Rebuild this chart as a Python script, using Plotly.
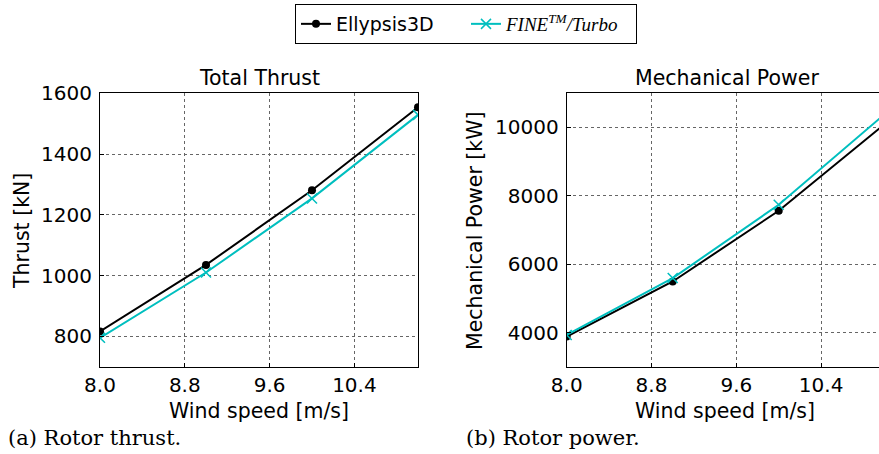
import plotly.graph_objects as go

# ---- data ----
wind_speed = [8.0, 9.0, 10.0, 11.0]
thrust_ellypsis = [816, 1035, 1281, 1554]
thrust_fine = [795, 1010, 1254, 1529]
power_ellypsis = [3883, 5493, 7563, 10100]
power_fine = [3930, 5593, 7739, 10390]
x_ticks = [8.0, 8.8, 9.6, 10.4]
x_tick_labels = ["8.0", "8.8", "9.6", "10.4"]
thrust_ticks = [800, 1000, 1200, 1400, 1600]
power_ticks = [4000, 6000, 8000, 10000]

BLACK = "#000000"
CYAN = "#00BFBF"
FONT = "DejaVu Sans"
W, H = 879, 454

fig = go.Figure()

def add_pair(xa, ya, y1, y2, show):
    fig.add_trace(go.Scatter(
        x=wind_speed, y=y1, xaxis=xa, yaxis=ya, mode="lines+markers",
        name="Ellypsis3D", showlegend=show,
        line=dict(color=BLACK, width=2), marker=dict(symbol="circle", size=8, color=BLACK),
    ))
    fig.add_trace(go.Scatter(
        x=wind_speed, y=y2, xaxis=xa, yaxis=ya, mode="lines+markers",
        name="<span style='font-family:\"Liberation Serif\", serif; font-size:19px'><i>FINE<sup>TM</sup>/Turbo</i></span>",
        showlegend=show,
        line=dict(color=CYAN, width=2),
        marker=dict(symbol="x-thin", size=10, color=CYAN, line=dict(color=CYAN, width=1.5)),
    ))

add_pair("x", "y", thrust_ellypsis, thrust_fine, True)
add_pair("x2", "y2", power_ellypsis, power_fine, False)

def px_x(p):
    return p / W

def px_y(p):
    return 1 - p / H

axis_common = dict(
    showline=True, linecolor=BLACK, linewidth=1,
    ticks="inside", ticklen=4, tickcolor=BLACK, tickwidth=1,
    showgrid=True, gridcolor="#666666", griddash="dot", gridwidth=1,
    zeroline=False, tickfont=dict(family=FONT, size=20, color=BLACK),
    automargin=False,
)

ydom = [px_y(366.7), px_y(93.3)]

fig.update_layout(
    width=W, height=H,
    margin=dict(l=0, r=0, t=0, b=0, autoexpand=False),
    paper_bgcolor="white", plot_bgcolor="white",
    font=dict(family=FONT, color=BLACK),
    xaxis=dict(domain=[px_x(100), px_x(418)], range=[8, 11], tickvals=x_ticks,
               ticktext=x_tick_labels, anchor="y", mirror=True, **axis_common),
    yaxis=dict(domain=ydom, range=[700, 1600], tickvals=thrust_ticks, anchor="x",
               mirror=True, ticklabelstandoff=3, tickformat="d", **axis_common),
    xaxis2=dict(domain=[px_x(566.7), 1.0], range=[8, 10.946], tickvals=x_ticks,
                ticktext=x_tick_labels, anchor="y2", mirror=True, **axis_common),
    yaxis2=dict(domain=ydom, range=[3000, 11000], tickvals=power_ticks, anchor="x2",
                mirror=False, ticklabelstandoff=3, tickformat="d", **axis_common),
    legend=dict(
        orientation="h", x=px_x(466), xanchor="center", y=px_y(4), yanchor="top",
        bordercolor=BLACK, borderwidth=1, bgcolor="white",
        font=dict(family=FONT, size=19, color=BLACK),
        entrywidth=125, entrywidthmode="pixels",
    ),
)

def ann(text, x, y, size=20.5, family=FONT, angle=0, xanchor="center"):
    fig.add_annotation(text=text, x=px_x(x), y=px_y(y), xref="paper", yref="paper",
                       showarrow=False, textangle=angle, xanchor=xanchor, yanchor="middle",
                       font=dict(family=family, size=size, color=BLACK))

ann("Total Thrust", 259, 78)
ann("Mechanical Power", 727, 78)
ann("Wind speed [m/s]", 259, 411)
ann("Wind speed [m/s]", 725, 411)
ann("Thrust [kN]", 22, 231, angle=-90)
ann("Mechanical Power [kW]", 475, 231, angle=-90)
ann("(a) Rotor thrust.", 6, 438, size=21, family="DejaVu Serif", xanchor="left")
ann("(b) Rotor power.", 464, 438, size=21, family="DejaVu Serif", xanchor="left")

fig.write_html("out.html")
